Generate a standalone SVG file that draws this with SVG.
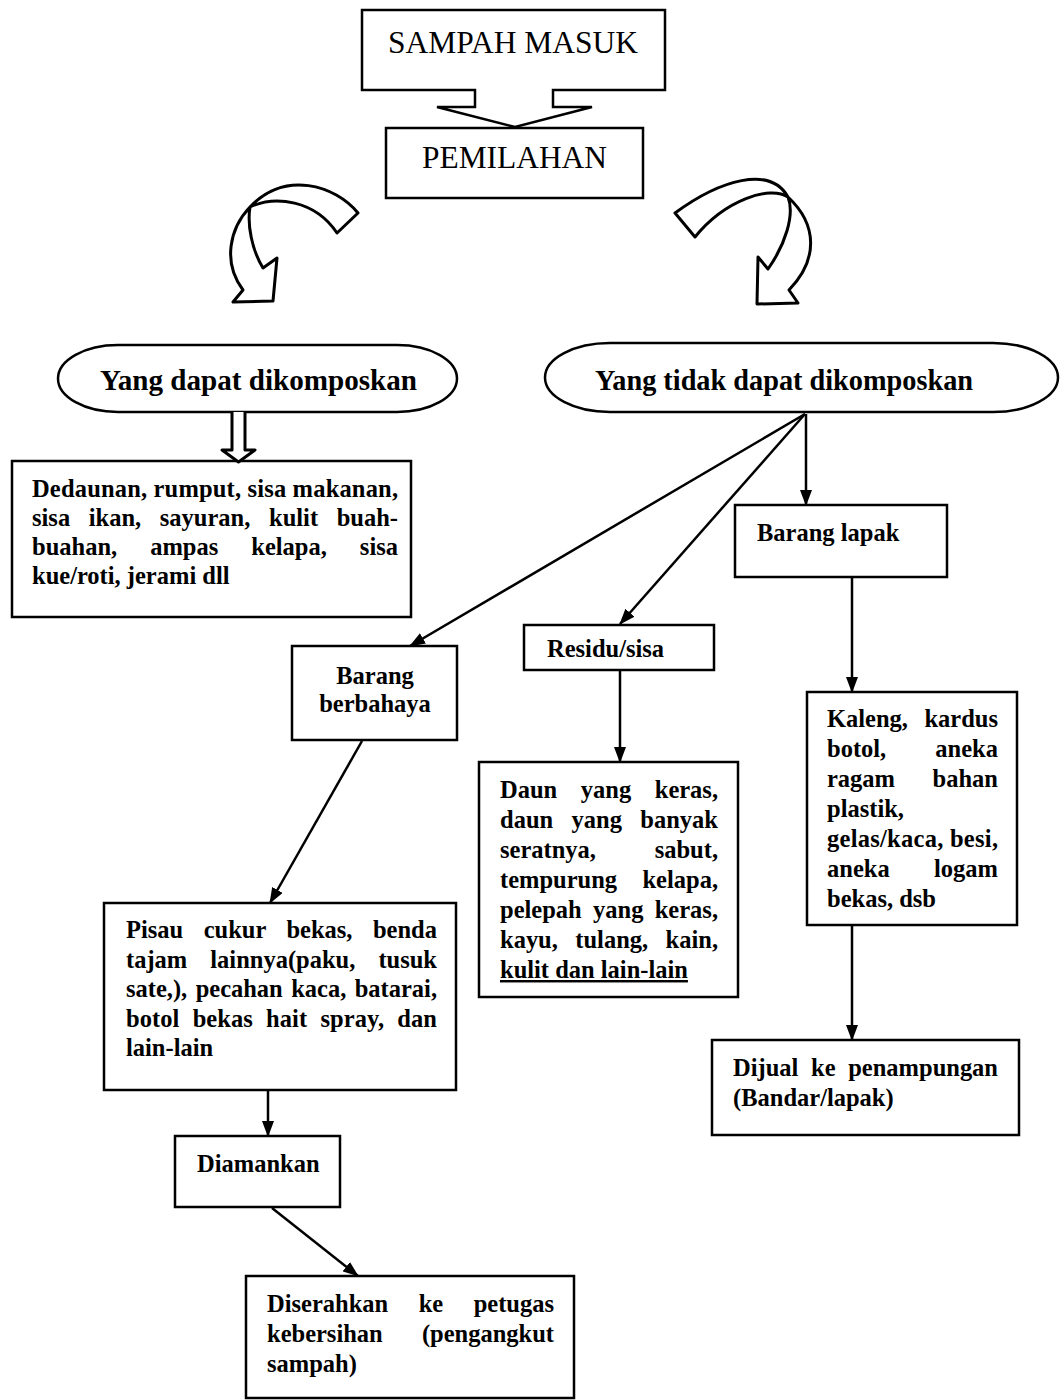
<svg xmlns="http://www.w3.org/2000/svg" width="1061" height="1400" viewBox="0 0 1061 1400">
<defs>
<marker id="ah" markerWidth="16" markerHeight="12" refX="15" refY="6" orient="auto" markerUnits="userSpaceOnUse"><path d="M0,0 L16,6 L0,12 Z" fill="#000"/></marker>
</defs>
<style>
.bx{fill:#fff;stroke:#000;stroke-width:2.5}
.sh{fill:#fff;stroke:#000;stroke-width:3;stroke-linejoin:round}
.ln{fill:none;stroke:#000;stroke-width:2.5}
.tt{font-family:"Liberation Serif","Times New Roman",serif;font-size:31px;fill:#000}
.el{font-family:"Liberation Serif","Times New Roman",serif;font-size:28.5px;font-weight:bold;fill:#000}
.t{font-family:"Liberation Serif","Times New Roman",serif;font-size:24.5px;font-weight:bold;fill:#000}
</style>
<rect width="1061" height="1400" fill="#fff"/>
<g id="sampah-masuk">
<path class="bx" d="M362,10 H665 V90 H553 V107 H592 L515,127 L437,107 H475 V90 H362 Z"/>
<text class="tt" x="388" y="53" textLength="250" lengthAdjust="spacingAndGlyphs">SAMPAH MASUK</text>
</g>
<g id="pemilahan">
<rect class="bx" x="386" y="128" width="257" height="70"/>
<text class="tt" x="422" y="168" textLength="185" lengthAdjust="spacingAndGlyphs">PEMILAHAN</text>
</g>
<g id="curved-left">
<path class="sh" d="M358,213 C335,185 285,170 250,207 C230,228 222,262 243,290 L233,302 L273,301 L277,258 L263,268 C252,250 247,225 250,207 C275,195 315,200 337,233 Z"/>
</g>
<g id="curved-right">
<path class="sh" d="M675,213 C720,180 770,165 788,197 C818,225 818,260 789,290 L798,303 L757,304 L758,257 L768,269 C785,245 795,215 788,197 C770,185 725,200 695,237 Z"/>
</g>
<g id="dapat-dikomposkan">
<rect class="bx" x="58" y="345" width="399" height="67" rx="60" ry="33.5"/>
<text class="el" x="100" y="390" textLength="317" lengthAdjust="spacingAndGlyphs">Yang dapat dikomposkan</text>
</g>
<g id="tidak-dapat-dikomposkan">
<rect class="bx" x="545" y="343" width="513" height="69" rx="65" ry="34.5"/>
<text class="el" x="595" y="390" textLength="378" lengthAdjust="spacingAndGlyphs">Yang tidak dapat dikomposkan</text>
</g>
<g id="dedaunan">
<rect class="bx" x="12" y="461" width="399" height="156"/>
<text class="t" x="32" y="497" textLength="366" lengthAdjust="spacing">Dedaunan, rumput, sisa makanan,</text>
<text class="t" x="32" y="526" word-spacing="12.5" textLength="366" lengthAdjust="spacing">sisa ikan, sayuran, kulit buah-</text>
<text class="t" x="32" y="555" word-spacing="26.9" textLength="366" lengthAdjust="spacing">buahan, ampas kelapa, sisa</text>
<text class="t" x="32" y="584">kue/roti, jerami dll</text>
</g>
<g id="barang-lapak">
<rect class="bx" x="735" y="505" width="212" height="72"/>
<text class="t" x="757" y="541">Barang lapak</text>
</g>
<g id="barang-berbahaya">
<rect class="bx" x="292" y="646" width="165" height="94"/>
<text class="t" x="375" y="684" text-anchor="middle">Barang</text>
<text class="t" x="375" y="712" text-anchor="middle">berbahaya</text>
</g>
<g id="residu">
<rect class="bx" x="524" y="625" width="190" height="45"/>
<text class="t" x="547" y="657">Residu/sisa</text>
</g>
<g id="daun">
<rect class="bx" x="479" y="762" width="259" height="235"/>
<text class="t" x="500" y="798" word-spacing="17.5" textLength="218" lengthAdjust="spacing">Daun yang keras,</text>
<text class="t" x="500" y="828" word-spacing="12.3" textLength="218" lengthAdjust="spacing">daun yang banyak</text>
<text class="t" x="500" y="858" word-spacing="52.6" textLength="218" lengthAdjust="spacing">seratnya, sabut,</text>
<text class="t" x="500" y="888" word-spacing="19.3" textLength="218" lengthAdjust="spacing">tempurung kelapa,</text>
<text class="t" x="500" y="918" word-spacing="5.2" textLength="218" lengthAdjust="spacing">pelepah yang keras,</text>
<text class="t" x="500" y="948" word-spacing="11.3" textLength="218" lengthAdjust="spacing">kayu, tulang, kain,</text>
<text class="t" x="500" y="978" text-decoration="underline">kulit dan lain-lain</text>
</g>
<g id="kaleng">
<rect class="bx" x="807" y="692" width="210" height="233"/>
<text class="t" x="827" y="727" word-spacing="10.4" textLength="171" lengthAdjust="spacing">Kaleng, kardus</text>
<text class="t" x="827" y="757" word-spacing="43" textLength="171" lengthAdjust="spacing">botol, aneka</text>
<text class="t" x="827" y="787" word-spacing="31.5" textLength="171" lengthAdjust="spacing">ragam bahan</text>
<text class="t" x="827" y="817">plastik,</text>
<text class="t" x="827" y="847" textLength="171" lengthAdjust="spacing">gelas/kaca, besi,</text>
<text class="t" x="827" y="877" word-spacing="38.3" textLength="171" lengthAdjust="spacing">aneka logam</text>
<text class="t" x="827" y="907">bekas, dsb</text>
</g>
<g id="pisau">
<rect class="bx" x="104" y="903" width="352" height="187"/>
<text class="t" x="126" y="938" word-spacing="14.3" textLength="311" lengthAdjust="spacing">Pisau cukur bekas, benda</text>
<text class="t" x="126" y="968" word-spacing="17" textLength="311" lengthAdjust="spacing">tajam lainnya(paku, tusuk</text>
<text class="t" x="126" y="997" word-spacing="2.3" textLength="311" lengthAdjust="spacing">sate,), pecahan kaca, batarai,</text>
<text class="t" x="126" y="1027" word-spacing="7.1" textLength="311" lengthAdjust="spacing">botol bekas hait spray, dan</text>
<text class="t" x="126" y="1056">lain-lain</text>
</g>
<g id="dijual">
<rect class="bx" x="712" y="1040" width="307" height="95"/>
<text class="t" x="733" y="1076" word-spacing="6.6" textLength="265" lengthAdjust="spacing">Dijual ke penampungan</text>
<text class="t" x="733" y="1106">(Bandar/lapak)</text>
</g>
<g id="diamankan">
<rect class="bx" x="175" y="1136" width="165" height="71"/>
<text class="t" x="197" y="1172">Diamankan</text>
</g>
<g id="diserahkan">
<rect class="bx" x="246" y="1276" width="328" height="122"/>
<text class="t" x="267" y="1312" word-spacing="24.4" textLength="287" lengthAdjust="spacing">Diserahkan ke petugas</text>
<text class="t" x="267" y="1342" word-spacing="33.1" textLength="287" lengthAdjust="spacing">kebersihan (pengangkut</text>
<text class="t" x="267" y="1372">sampah)</text>
</g>
<g id="connectors">
<path class="sh" d="M232,412 V450 H222 L238.5,462 L255,450 H245 V412"/>
<line class="ln" x1="805" y1="414" x2="410" y2="646" marker-end="url(#ah)"/>
<line class="ln" x1="805" y1="414" x2="620" y2="624" marker-end="url(#ah)"/>
<line class="ln" x1="806" y1="414" x2="806" y2="505" marker-end="url(#ah)"/>
<line class="ln" x1="852" y1="577" x2="852" y2="692" marker-end="url(#ah)"/>
<line class="ln" x1="852" y1="925" x2="852" y2="1040" marker-end="url(#ah)"/>
<line class="ln" x1="620" y1="670" x2="620" y2="762" marker-end="url(#ah)"/>
<line class="ln" x1="362" y1="741" x2="270" y2="903" marker-end="url(#ah)"/>
<line class="ln" x1="268" y1="1091" x2="268" y2="1136" marker-end="url(#ah)"/>
<line class="ln" x1="272" y1="1208" x2="358" y2="1276" marker-end="url(#ah)"/>
</g>
</svg>
